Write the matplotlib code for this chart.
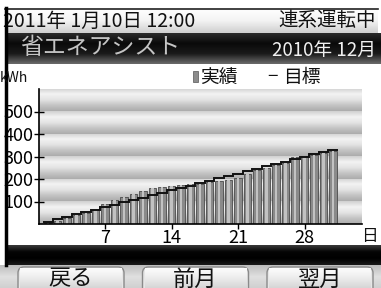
import numpy as np
import matplotlib
matplotlib.use("Agg")
import matplotlib.pyplot as plt
from matplotlib.colors import LinearSegmentedColormap
from matplotlib.patches import FancyBboxPatch, Rectangle

# data (cumulative kWh, Dec 2010)
days = list(range(1, 32))
actual = [5, 14, 27, 38, 48, 62, 88, 105, 122, 135, 148, 160, 165, 168, 172, 176,
          180, 185, 190, 196, 205, 224, 240, 250, 262, 272, 298, 302, 308, 314, 324]
target = [11, 21, 32, 43, 53, 64, 75, 85, 96, 107, 117, 128, 139, 149, 160, 171,
          181, 192, 203, 213, 224, 235, 245, 256, 267, 277, 288, 299, 309, 320, 330]
yticks = [100, 200, 300, 400, 500]
xticks = [7, 14, 21, 28]
buttons = ["戻る", "前月", "翌月"]

plt.rcParams["font.family"] = ["Liberation Sans Narrow", "Noto Sans CJK JP", "DejaVu Sans"]

W, H = 381, 288
fig = plt.figure(figsize=(W / 100, H / 100), dpi=100)
fig.patch.set_facecolor("white")

ui = fig.add_axes([0, 0, 1, 1])
ui.set_xlim(0, W)
ui.set_ylim(H, 0)
ui.axis("off")


def vgrad(ax, x0, x1, y0, y1, colors, z=0):
    cmap = LinearSegmentedColormap.from_list("g", colors)
    ax.imshow(np.linspace(0, 1, 64)[:, None], cmap=cmap, extent=(x0, x1, y1, y0),
              aspect="auto", zorder=z, interpolation="bilinear")


# status bar
vgrad(ui, 5, 378, 8, 33, ["#ffffff", "#f4f4f4", "#cfcfcf"])
ui.plot([5, 378], [8.5, 8.5], color="#222222", lw=1.2)
ui.text(3, 21, "2011年 1月10日 12:00", fontsize=14, va="center", ha="left", color="#111111")
ui.text(376, 21, "連系運転中", fontsize=14, va="center", ha="right", color="#111111")

# title bar
vgrad(ui, 5, 381, 33, 64, ["#2a2a2a", "#0a0a0a", "#1a1a1a", "#6a6a6a"])
ui.text(20, 48, "省エネアシスト", fontsize=16.5, va="center", ha="left", color="#c4c4c4")
ui.text(376, 50, "2010年 12月", fontsize=13.5, va="center", ha="right", color="#f0f0f0")

# chart header
ui.text(0, 78, "kWh", fontsize=10, va="center", ha="left", color="#111111", zorder=6)
ui.add_patch(Rectangle((193, 71), 5, 11, facecolor="#8c8c8c", edgecolor="#555555", lw=0.5))
ui.text(200, 77, "実績", fontsize=13.5, va="center", ha="left", color="#111111")
ui.text(267, 77, "−", fontsize=13.5, va="center", ha="left", color="#111111")
ui.text(283, 77, "目標", fontsize=13.5, va="center", ha="left", color="#111111")

# bottom black bar
vgrad(ui, 5, 381, 245, 265, ["#3a3a3a", "#050505", "#000000", "#1a1a1a"])

# button strip
vgrad(ui, 0, 381, 265, 288, ["#bdbdbd", "#e0e0e0", "#d0d0d0"])
for i, label in enumerate(buttons):
    x0 = 18 + i * 124.5
    ui.add_patch(FancyBboxPatch((x0, 267), 106, 30, boxstyle="round,pad=0,rounding_size=6",
                                facecolor="#e6e6e6", edgecolor="#8a8a8a", lw=1.0, zorder=2))
    vgrad(ui, x0 + 2, x0 + 104, 268, 288, ["#fdfdfd", "#ececec", "#d6d6d6"], z=2)
    ui.text(x0 + 53, 279, label, fontsize=16, va="center", ha="center", color="#111111", zorder=3)

# left border
ui.plot([5.5, 5.5], [8, 265], color="#000000", lw=2.5, zorder=5)

# chart axes, placed in screen pixels
left, right, top, bottom = 38.5, 361.5, 89, 224
ax = fig.add_axes([left / W, 1 - bottom / H, (right - left) / W, (bottom - top) / H])
ax.set_facecolor("none")

band = LinearSegmentedColormap.from_list(
    "band", ["#d0d0d0", "#f3f3f3", "#e4e4e4", "#c4c4c4", "#acacac"])
for k in range(6):
    ax.imshow(np.linspace(0, 1, 64)[:, None], cmap=band, extent=(0, 34, k * 100, (k + 1) * 100),
              aspect="auto", zorder=0, interpolation="bilinear")
ax.set_xlim(0, 34)
ax.set_ylim(0, 600)

ax.bar(days, actual, width=0.74, color="#8a8a8a", edgecolor="#4a4a4a", linewidth=0.6, zorder=2)
ax.bar(days, actual, width=0.22, color="#c2c2c2", linewidth=0, zorder=3)
ax.stairs(target, np.arange(0.5, 32), baseline=None, color="#111111", linewidth=1.4, zorder=4)

for s in ["top", "right"]:
    ax.spines[s].set_visible(False)
for s in ["left", "bottom"]:
    ax.spines[s].set_linewidth(1.2)
    ax.spines[s].set_zorder(5)

ax.set_yticks(yticks)
ax.set_yticklabels([str(v) for v in yticks])
ax.set_xticks(xticks)
ax.set_xticklabels([str(v) for v in xticks])
ax.tick_params(axis="y", direction="inout", length=7, width=1, labelsize=13, pad=0)
ax.tick_params(axis="x", direction="inout", length=7, width=1, labelsize=13, pad=0)

ui.text(369, 236, "日", fontsize=12, va="center", ha="center", color="#111111")

fig.savefig("out.png", dpi=100)
